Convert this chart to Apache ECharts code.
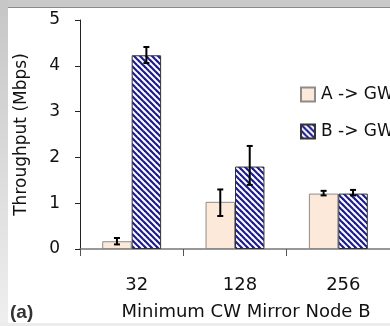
<!DOCTYPE html>
<html>
<head>
<meta charset="utf-8">
<script src="https://cdn.jsdelivr.net/npm/echarts@6/dist/echarts.min.js"></script>
<style>
html,body{margin:0;padding:0;background:#fff;}
#chart{width:390px;height:326px;}
</style>
</head>
<body>
<div id="chart"></div>
<script>
// ---- data ----
var categories = ['32', '128', '256'];
var seriesNames = ['A -> GW', 'B -> GW'];
var aValues = [0.17, 1.03, 1.21];
var aLow    = [0.10, 0.72, 1.17];
var aHigh   = [0.24, 1.30, 1.27];
var bValues = [4.23, 1.80, 1.21];
var bLow    = [4.06, 1.40, 1.17];
var bHigh   = [4.41, 2.25, 1.29];
var yTicks  = [0, 1, 2, 3, 4, 5];

var FONT = '"DejaVu Sans", sans-serif';
var GAP = 0.43;

// hatch pattern
function makeHatch() {
  var c = document.createElement('canvas');
  c.width = 6; c.height = 6;
  var ctx = c.getContext('2d');
  ctx.fillStyle = '#ffffff';
  ctx.fillRect(0, 0, 6, 6);
  ctx.strokeStyle = '#1c1c8e';
  ctx.lineWidth = 2.2;
  for (var k = -6; k <= 6; k += 6) {
    ctx.beginPath();
    ctx.moveTo(k - 1, -1);
    ctx.lineTo(k + 7, 7);
    ctx.stroke();
  }
  return c;
}
var hatch = makeHatch();

function errRender(sign) {
  return function (params, api) {
    var i = api.value(0);
    var band = api.size([1, 0])[0];
    var off = sign * band * (1 - GAP) / 4;
    var top = api.coord([i, api.value(2)]);
    var bot = api.coord([i, api.value(1)]);
    var x = top[0] + off;
    var st = { stroke: '#000', lineWidth: 2 };
    return {
      type: 'group',
      children: [
        { type: 'line', shape: { x1: x, y1: top[1], x2: x, y2: bot[1] }, style: st },
        { type: 'line', shape: { x1: x - 3, y1: top[1], x2: x + 3, y2: top[1] }, style: st },
        { type: 'line', shape: { x1: x - 3, y1: bot[1], x2: x + 3, y2: bot[1] }, style: st }
      ]
    };
  };
}

var chart = echarts.init(document.getElementById('chart'), null, { renderer: 'canvas' });
var option = {
  animation: false,
  backgroundColor: '#ffffff',
  textStyle: { fontFamily: FONT },
  graphic: [
    { type: 'rect', shape: { x: 0, y: 0, width: 390, height: 7 }, style: { fill: '#c9c9c9' }, z: -10 },
    { type: 'line', shape: { x1: 8, y1: 7.5, x2: 390, y2: 7.5 }, style: { stroke: '#8a8a8a', lineWidth: 1 }, z: -9 },
    { type: 'rect', shape: { x: 0, y: 0, width: 8, height: 326 },
      style: { fill: new echarts.graphic.LinearGradient(0, 0, 0, 1, [
        { offset: 0, color: '#c6c6c6' }, { offset: 1, color: '#efefef' }]) }, z: -10 },
    { type: 'rect', shape: { x: 0, y: 323, width: 390, height: 3 }, style: { fill: '#ececec' }, z: -10 },
    { type: 'text', left: 10, top: 303, style: { text: '(a)', font: 'bold 19px "Liberation Sans", Arial, sans-serif', fill: '#333333' } }
  ],
  grid: { left: 80, top: 20, right: -4, bottom: 74 },
  legend: {
    data: seriesNames,
    orient: 'vertical',
    icon: 'rect',
    left: 295,
    top: 81,
    itemWidth: 14,
    itemHeight: 14,
    itemGap: 20,
    textStyle: { fontFamily: FONT, fontSize: 17, color: '#111', padding: [0, 0, 0, 1] }
  },
  xAxis: {
    type: 'category',
    data: categories,
    axisLine: { lineStyle: { color: '#777', width: 1.5 } },
    axisTick: { show: true, length: 7, lineStyle: { color: '#555', width: 1 } },
    axisLabel: { fontFamily: FONT, fontSize: 18, color: '#111', margin: 27, padding: [0, 0, 0, 10] },
    name: 'Minimum CW Mirror Node B',
    nameLocation: 'middle',
    nameGap: 54,
    nameTextStyle: { fontFamily: FONT, fontSize: 18, color: '#111', padding: [0, 0, 0, 22] }
  },
  yAxis: {
    type: 'value',
    min: 0, max: 5, interval: 1,
    splitLine: { show: false },
    axisLine: { show: true, lineStyle: { color: '#222', width: 1 } },
    axisTick: { show: true, length: 5, lineStyle: { color: '#222' } },
    axisLabel: { fontFamily: FONT, fontSize: 17, color: '#111', margin: 20,
      formatter: function (v) { return yTicks.indexOf(v) >= 0 ? String(v) : ''; } },
    name: 'Throughput (Mbps)',
    nameLocation: 'middle',
    nameGap: 50,
    nameTextStyle: { fontFamily: FONT, fontSize: 17, color: '#111' }
  },
  series: [
    { name: seriesNames[0], type: 'bar', data: aValues, barGap: '0%', barCategoryGap: (GAP * 100) + '%',
      itemStyle: { color: '#fde9da', borderColor: '#8c8c8c', borderWidth: 1 } },
    { name: seriesNames[1], type: 'bar', data: bValues,
      itemStyle: { color: { image: hatch, repeat: 'repeat' }, borderColor: '#333', borderWidth: 1 } },
    { name: 'errA', type: 'custom', renderItem: errRender(-1), z: 10,
      data: categories.map(function (c, i) { return [i, aLow[i], aHigh[i]]; }) },
    { name: 'errB', type: 'custom', renderItem: errRender(1), z: 10,
      data: categories.map(function (c, i) { return [i, bLow[i], bHigh[i]]; }) }
  ]
};
chart.setOption(option);
</script>
</body>
</html>
